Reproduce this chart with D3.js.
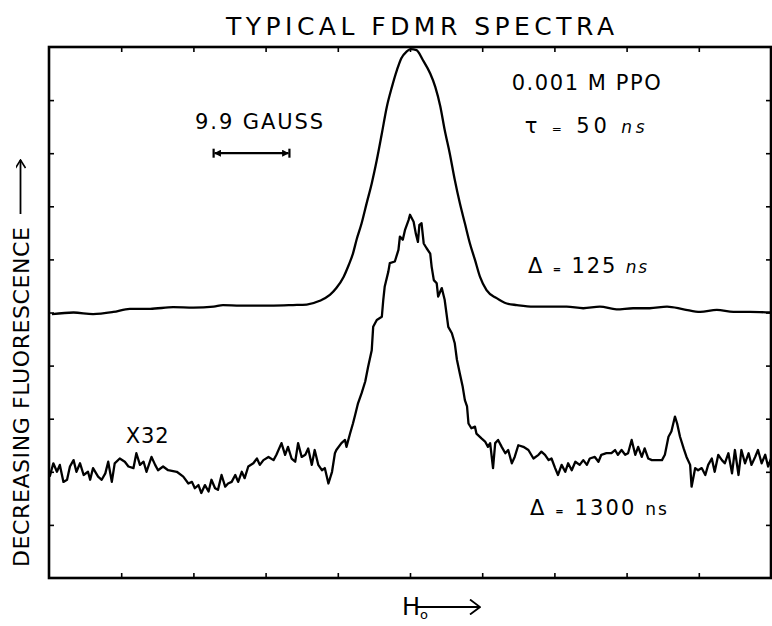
<!DOCTYPE html>
<html>
<head>
<meta charset="utf-8">
<script src="https://cdnjs.cloudflare.com/ajax/libs/d3/7.8.5/d3.min.js"></script>
<style>
  body { margin: 0; background: #fff; }
  svg { display: block; font-family: 'DejaVu Sans', sans-serif; }
  .tick line { stroke: #000; stroke-width: 1.6; }
  .trace { fill: none; stroke: #000; stroke-width: 2.3; stroke-linejoin: round; }
</style>
</head>
<body>
<svg class="chart"></svg>
<script>
// tick positions (divisions of the frame, no labels on the original)
var xTicks = [1, 2, 3, 4, 5, 6, 7, 8, 9];
var yTicks = [1, 2, 3, 4, 5, 6, 7, 8, 9];

// field position (divisions) , signal (divisions) - delta = 125 ns
var upperTrace = [
  [0.04,4.97],[0.34,5.00],[0.61,4.97],[0.89,5.01],[1.12,5.07],[1.40,5.07],[1.72,5.10],[2.00,5.09],
  [2.28,5.11],[2.41,5.14],[2.65,5.13],[2.88,5.13],[3.11,5.13],[3.38,5.14],[3.57,5.15],[3.75,5.22],
  [3.89,5.33],[3.98,5.46],[4.08,5.67],[4.15,5.89],[4.21,6.11],[4.26,6.37],[4.33,6.68],[4.40,7.06],
  [4.47,7.43],[4.54,7.87],[4.61,8.37],[4.68,8.88],[4.75,9.25],[4.82,9.57],[4.88,9.79],[4.95,9.91],
  [5.01,9.96],[5.09,9.94],[5.18,9.75],[5.28,9.50],[5.35,9.25],[5.42,8.88],[5.48,8.44],[5.55,8.00],
  [5.62,7.50],[5.69,7.06],[5.76,6.68],[5.83,6.30],[5.90,5.99],[5.97,5.67],[6.06,5.42],[6.20,5.27],
  [6.34,5.17],[6.48,5.14],[6.71,5.11],[6.94,5.11],[7.17,5.11],[7.40,5.08],[7.63,5.11],[7.86,5.06],
  [8.09,5.08],[8.32,5.08],[8.56,5.11],[8.79,5.06],[9.02,5.01],[9.25,5.05],[9.48,5.01],[9.71,5.01],
  [9.99,5.00]
];

// delta = 1300 ns, x32
var lowerTrace = [
  [0.01,1.91],[0.06,2.16],[0.11,2.00],[0.15,2.13],[0.20,1.81],[0.25,1.85],[0.29,2.10],[0.34,2.22],
  [0.38,2.00],[0.43,2.16],[0.48,1.94],[0.54,2.00],[0.57,1.85],[0.61,2.07],[0.68,1.91],[0.73,1.85],
  [0.78,1.97],[0.82,2.19],[0.87,1.81],[0.91,2.16],[0.98,2.25],[1.05,2.19],[1.10,2.10],[1.17,2.07],
  [1.21,2.35],[1.26,2.13],[1.31,2.19],[1.35,2.00],[1.42,2.28],[1.47,2.13],[1.51,2.03],[1.58,2.10],
  [1.65,2.03],[1.77,2.00],[1.86,1.91],[1.93,1.78],[1.98,1.81],[2.02,1.69],[2.07,1.75],[2.11,1.60],
  [2.16,1.75],[2.21,1.63],[2.25,1.85],[2.30,1.69],[2.34,1.66],[2.39,1.94],[2.44,1.72],[2.48,1.78],
  [2.53,1.81],[2.58,1.94],[2.62,1.81],[2.67,2.00],[2.71,1.88],[2.76,2.10],[2.83,2.16],[2.88,2.25],
  [2.92,2.13],[2.97,2.22],[3.04,2.28],[3.11,2.22],[3.15,2.32],[3.22,2.54],[3.27,2.32],[3.31,2.47],
  [3.36,2.25],[3.41,2.19],[3.45,2.54],[3.50,2.28],[3.55,2.32],[3.59,2.44],[3.64,2.13],[3.68,2.41],
  [3.73,2.13],[3.78,2.03],[3.82,2.07],[3.87,1.78],[3.92,2.00],[3.96,2.35],[3.98,2.41],[4.05,2.54],
  [4.10,2.60],[4.12,2.47],[4.17,2.72],[4.21,2.91],[4.24,3.07],[4.28,3.29],[4.33,3.48],[4.38,3.70],
  [4.42,3.98],[4.47,4.29],[4.49,4.73],[4.54,4.86],[4.61,4.92],[4.63,5.24],[4.65,5.49],[4.70,5.77],
  [4.72,5.93],[4.79,5.96],[4.84,6.18],[4.86,6.43],[4.90,6.37],[4.93,6.55],[4.98,6.74],[5.00,6.84],
  [5.05,6.71],[5.08,6.49],[5.11,6.33],[5.13,6.65],[5.16,6.68],[5.19,6.30],[5.23,6.21],[5.28,6.11],
  [5.30,5.86],[5.33,5.61],[5.37,5.55],[5.39,5.30],[5.44,5.46],[5.48,5.24],[5.53,4.73],[5.58,4.61],
  [5.62,4.42],[5.65,4.11],[5.69,3.85],[5.73,3.60],[5.76,3.35],[5.79,3.23],[5.81,2.91],[5.85,2.82],
  [5.90,2.85],[5.92,2.72],[5.99,2.63],[6.04,2.57],[6.08,2.47],[6.11,2.54],[6.15,2.07],[6.18,2.54],
  [6.22,2.60],[6.27,2.47],[6.32,2.35],[6.36,2.41],[6.41,2.16],[6.45,2.28],[6.50,2.50],[6.57,2.47],
  [6.64,2.41],[6.71,2.25],[6.78,2.32],[6.82,2.38],[6.87,2.32],[6.92,2.22],[6.96,2.25],[7.01,2.07],
  [7.05,1.94],[7.10,2.13],[7.15,2.00],[7.19,2.16],[7.24,2.03],[7.29,2.19],[7.35,2.13],[7.40,2.22],
  [7.45,2.13],[7.49,2.25],[7.56,2.28],[7.61,2.19],[7.65,2.32],[7.72,2.35],[7.79,2.35],[7.84,2.41],
  [7.88,2.32],[7.93,2.41],[7.98,2.32],[8.02,2.35],[8.07,2.60],[8.12,2.32],[8.16,2.47],[8.21,2.28],
  [8.25,2.44],[8.30,2.25],[8.35,2.22],[8.42,2.22],[8.49,2.22],[8.53,2.32],[8.58,2.66],[8.62,2.76],
  [8.67,3.04],[8.70,2.91],[8.74,2.66],[8.79,2.44],[8.83,2.28],[8.88,2.13],[8.90,1.72],[8.95,2.07],
  [8.99,2.03],[9.04,2.07],[9.09,1.94],[9.13,2.13],[9.18,2.25],[9.22,2.00],[9.27,2.32],[9.32,2.22],
  [9.36,2.16],[9.41,2.35],[9.46,1.97],[9.50,2.41],[9.55,1.94],[9.59,2.41],[9.64,2.16],[9.69,2.35],
  [9.73,2.13],[9.78,2.28],[9.82,2.41],[9.87,2.16],[9.92,2.32],[9.96,2.10],[10.00,2.25]
];

var margin = {
  top: 47,
  right: 1,
  bottom: 48,
  left: 49
};

var width = 772 - margin.left - margin.right;
var height = 626 - margin.top - margin.bottom;

var x = d3.scaleLinear().domain([0, 10]).range([0, width]);
var y = d3.scaleLinear().domain([0, 10]).range([height, 0]);

var svg = d3.select('.chart')
  .attr('width', 772)
  .attr('height', 626);

var chart = svg.append('g')
  .attr('transform', 'translate(' + margin.left + ',' + margin.top + ')');

// arrow heads: open chevrons like the hand lettering
var defs = svg.append('defs');
defs.append('marker')
  .attr('id', 'chev')
  .attr('viewBox', '0 0 10 10')
  .attr('refX', 9).attr('refY', 5)
  .attr('markerWidth', 10).attr('markerHeight', 10)
  .attr('markerUnits', 'userSpaceOnUse')
  .attr('orient', 'auto')
  .append('path')
  .attr('d', 'M1,0 L9,5 L1,10')
  .attr('fill', 'none').attr('stroke', '#000').attr('stroke-width', 1.6);
defs.append('marker')
  .attr('id', 'bigchev')
  .attr('viewBox', '0 0 12 16')
  .attr('refX', 11).attr('refY', 8)
  .attr('markerWidth', 12).attr('markerHeight', 16)
  .attr('markerUnits', 'userSpaceOnUse')
  .attr('orient', 'auto')
  .append('path')
  .attr('d', 'M1,0.5 L11,8 L1,15.5')
  .attr('fill', 'none').attr('stroke', '#000').attr('stroke-width', 1.8);
defs.append('marker')
  .attr('id', 'solid')
  .attr('viewBox', '0 0 10 10')
  .attr('refX', 9).attr('refY', 5)
  .attr('markerWidth', 7).attr('markerHeight', 7)
  .attr('markerUnits', 'userSpaceOnUse')
  .attr('orient', 'auto-start-reverse')
  .append('path')
  .attr('d', 'M0,0 L10,5 L0,10 Z')
  .attr('fill', '#000');

//Axes setup: ticks on all four sides, pointing inward
var bottomAxis = d3.axisBottom(x).tickValues(xTicks).tickSize(-5).tickFormat('');
var topAxis = d3.axisTop(x).tickValues(xTicks).tickSize(-5).tickFormat('');
var leftAxis = d3.axisLeft(y).tickValues(yTicks).tickSize(-5).tickFormat('');
var rightAxis = d3.axisRight(y).tickValues(yTicks).tickSize(-5).tickFormat('');

chart.append('g').attr('transform', 'translate(0,' + height + ')').call(bottomAxis);
chart.append('g').call(topAxis);
chart.append('g').call(leftAxis);
chart.append('g').attr('transform', 'translate(' + width + ',0)').call(rightAxis);
chart.selectAll('.domain').remove();

chart.append('rect')
  .attr('x', 0).attr('y', 0)
  .attr('width', width).attr('height', height)
  .attr('fill', 'none')
  .attr('stroke', '#000')
  .attr('stroke-width', 2.6);
//Axes applied

var smooth = d3.line()
  .x(d => x(d[0]))
  .y(d => y(d[1]))
  .curve(d3.curveMonotoneX);

var jagged = d3.line()
  .x(d => x(d[0]))
  .y(d => y(d[1]));

chart.append('path')
  .datum(upperTrace)
  .attr('class', 'trace')
  .attr('d', smooth);

chart.append('path')
  .datum(lowerTrace)
  .attr('class', 'trace')
  .attr('d', jagged);

// scale bar 9.9 gauss
var bar = { from: 2.28, to: 3.33, at: 8.0 };
chart.append('line')
  .attr('x1', x(bar.from) + 1).attr('x2', x(bar.to) - 1)
  .attr('y1', y(bar.at)).attr('y2', y(bar.at))
  .attr('stroke', '#000').attr('stroke-width', 2.2)
  .attr('marker-start', 'url(#solid)')
  .attr('marker-end', 'url(#solid)');
[bar.from, bar.to].forEach(function (v) {
  chart.append('line')
    .attr('x1', x(v)).attr('x2', x(v))
    .attr('y1', y(bar.at) - 4.5).attr('y2', y(bar.at) + 4.5)
    .attr('stroke', '#000').attr('stroke-width', 2.2);
});

// annotations, placed in data units
function note(xv, yv, size, len) {
  return chart.append('text')
    .attr('x', x(xv)).attr('y', y(yv))
    .attr('text-anchor', 'middle')
    .attr('font-size', size)
    .attr('textLength', len)
    .attr('lengthAdjust', 'spacing');
}

note(2.91, 8.46, 21, 128).text('9.9 GAUSS');
note(7.44, 9.19, 21, 149).text('0.001 M PPO');
note(1.36, 2.54, 21, 43).text('X32');

var t1 = note(7.42, 8.38, 21, 120);
t1.append('tspan').text('τ ');
t1.append('tspan').attr('font-size', 12).text('=');
t1.append('tspan').text(' 50 ');
t1.append('tspan').attr('font-size', 17).attr('font-style', 'italic').text('ns');

var t2 = note(7.46, 5.74, 21, 119);
t2.append('tspan').text('Δ ');
t2.append('tspan').attr('font-size', 10).attr('font-weight', 'bold').text('=');
t2.append('tspan').text(' 125 ');
t2.append('tspan').attr('font-size', 17).attr('font-style', 'italic').text('ns');

var t3 = note(7.61, 1.19, 21, 137);
t3.append('tspan').text('Δ ');
t3.append('tspan').attr('font-size', 10).attr('font-weight', 'bold').text('=');
t3.append('tspan').text(' 1300 ');
t3.append('tspan').attr('font-size', 17).text('ns');

// title
svg.append('text')
  .attr('x', 420).attr('y', 35)
  .attr('text-anchor', 'middle')
  .attr('font-size', 25)
  .attr('textLength', 388)
  .attr('lengthAdjust', 'spacing')
  .text('TYPICAL FDMR SPECTRA');

// y label
svg.append('text')
  .attr('transform', 'translate(28.5,567) rotate(-90)')
  .attr('font-size', 22)
  .attr('textLength', 340)
  .attr('lengthAdjust', 'spacing')
  .text('DECREASING FLUORESCENCE');
svg.append('line')
  .attr('x1', 20.5).attr('x2', 20.5)
  .attr('y1', 214).attr('y2', 160)
  .attr('stroke', '#000').attr('stroke-width', 1.8)
  .attr('marker-end', 'url(#chev)');

// x label
var xl = svg.append('text')
  .attr('x', 402).attr('y', 615)
  .attr('font-size', 24);
xl.append('tspan').text('H');
xl.append('tspan').attr('font-size', 13).attr('dy', 4).text('o');
svg.append('line')
  .attr('x1', 416).attr('x2', 480)
  .attr('y1', 607).attr('y2', 607)
  .attr('stroke', '#000').attr('stroke-width', 1.8)
  .attr('marker-end', 'url(#bigchev)');
</script>
</body>
</html>
